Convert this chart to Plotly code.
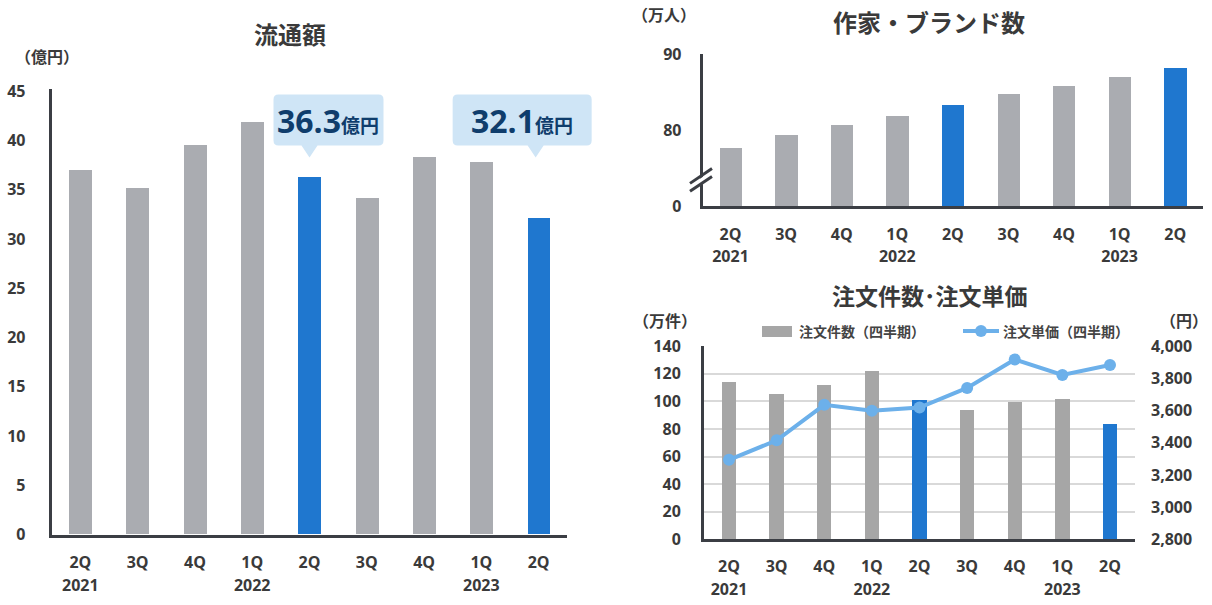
import plotly.graph_objects as go

# ---------------- data ----------------
quarters = ["2Q", "3Q", "4Q", "1Q", "2Q", "3Q", "4Q", "1Q", "2Q"]
years = ["2021", "", "", "2022", "", "", "", "2023", ""]
gmv = [37.0, 35.1, 39.5, 41.9, 36.3, 34.1, 38.3, 37.8, 32.1]          # 億円
creators = [77.7, 79.4, 80.7, 82.0, 83.4, 84.8, 85.9, 87.1, 88.2]     # 万人
orders = [114.0, 105.3, 111.6, 121.7, 101.0, 93.5, 99.5, 101.9, 83.4]  # 万件
unit_price = [3294, 3415, 3636, 3599, 3619, 3741, 3918, 3822, 3884]  # 円
highlight = [False, False, False, False, True, False, False, False, True]
gmv_callout_text = {4: "36.3", 8: "32.1"}

gmv_ticks = list(range(0, 46, 5))
creator_base = 70
creator_ticks = [70, 80, 90]
creator_ticktext = ["0", "80", "90"]
order_ticks = list(range(0, 141, 20))
price_ticks = list(range(2800, 4001, 200))

# ---------------- style ----------------
W, H = 1212, 605
# observed vertical mapping of the renderer (target px -> layout px)
V_OFF, V_SCALE = 12.2, 0.966
FONT = "Open Sans, Noto Sans CJK JP, sans-serif"
TXT = "#3a3a3a"
AX = "#3b3e44"
GRAY = "#aaacb1"
GRAY2 = "#a6a6a6"
BLUE = "#1f77cf"
LBLUE = "#6cb0ea"
CALL_BG = "#cfe5f6"
CALL_TX = "#0f3d6c"


def px(x):
    return x / W


def py(y):
    return 1 - ((y - V_OFF) / V_SCALE) / H


idx = list(range(len(quarters)))
year_vals = [i for i, y in enumerate(years) if y]
year_text = [y for y in years if y]
colors_a = [BLUE if h else GRAY for h in highlight]
colors_b = [BLUE if h else GRAY2 for h in highlight]

fig = go.Figure()

# left: 流通額
fig.add_trace(go.Bar(x=idx, y=gmv, width=0.4, xaxis="x", yaxis="y",
                     marker_color=colors_a, marker_line_width=0, hoverinfo="skip"))
# top right: 作家・ブランド数 (broken axis: bars start at the displayed "0")
fig.add_trace(go.Bar(x=idx, y=[v - creator_base for v in creators], base=creator_base,
                     width=0.4, xaxis="x2", yaxis="y2",
                     marker_color=colors_a, marker_line_width=0, hoverinfo="skip"))
# bottom right: 注文件数 / 注文単価
fig.add_trace(go.Bar(x=idx, y=orders, width=0.3, xaxis="x3", yaxis="y3",
                     marker_color=colors_b, marker_line_width=0, hoverinfo="skip"))
fig.add_trace(go.Scatter(x=idx, y=unit_price, xaxis="x3", yaxis="y4",
                         mode="lines+markers",
                         line=dict(color=LBLUE, width=4),
                         marker=dict(size=12, color=LBLUE),
                         hoverinfo="skip"))
# empty traces so the year-label axes are rendered
for xa, ya in [("x4", "y"), ("x5", "y2"), ("x6", "y3")]:
    fig.add_trace(go.Scatter(x=[], y=[], xaxis=xa, yaxis=ya, hoverinfo="skip"))

tickf = dict(family=FONT, size=16, color=TXT, weight="bold")


def xaxis(domain, rng, anchor, standoff):
    return dict(domain=domain, range=rng, anchor=anchor, tickvals=idx,
                ticktext=quarters, showline=True, linecolor=AX, linewidth=3,
                showgrid=False, zeroline=False, ticks="", tickfont=tickf,
                ticklabelstandoff=standoff, fixedrange=True)


def yearaxis(base, rng, anchor, standoff):
    return dict(overlaying=base, range=rng, anchor=anchor, tickvals=year_vals,
                ticktext=year_text, showline=False, showgrid=False,
                zeroline=False, ticks="", tickfont=tickf, side="bottom",
                ticklabelstandoff=standoff, fixedrange=True)


L_dom = [px(51.7), px(567.3)]
TR_dom = [px(702.7), px(1203)]
BR_dom = [px(704), px(1135)]

fig.update_layout(
    width=W, height=H, margin=dict(l=0, r=0, t=0, b=0),
    paper_bgcolor="white", plot_bgcolor="rgba(0,0,0,0)",
    showlegend=False, bargap=0,
    font=dict(family=FONT, color=TXT),
    xaxis=xaxis(L_dom, [-0.5, 8.5], "y", 11),
    xaxis4=yearaxis("x", [-0.5, 8.5], "y", 39),
    yaxis=dict(domain=[py(537), py(90.7)], range=[0, 45.2], tickvals=gmv_ticks,
               showline=True, linecolor=AX, linewidth=3, showgrid=False,
               zeroline=False, ticks="", tickfont=tickf, ticklabelstandoff=20,
               fixedrange=True),
    xaxis2=xaxis(TR_dom, [-0.5, 8.5], "y2", 11),
    xaxis5=yearaxis("x2", [-0.5, 8.5], "y2", 39),
    yaxis2=dict(domain=[py(208), py(55)], range=[70, 90.1], tickvals=creator_ticks,
                ticktext=creator_ticktext, anchor="x2",
                showline=True, linecolor=AX, linewidth=3, showgrid=False,
                zeroline=False, ticks="", tickfont=tickf, ticklabelstandoff=15,
                fixedrange=True),
    xaxis3=xaxis(BR_dom, [-0.525, 8.525], "y3", 11),
    xaxis6=yearaxis("x3", [-0.525, 8.525], "y3", 39),
    yaxis3=dict(domain=[py(541.7), py(348.3)], range=[0, 140], tickvals=order_ticks,
                anchor="x3", showline=True, linecolor=AX, linewidth=3,
                showgrid=True, gridcolor="#d9d9d9", gridwidth=1.5,
                zeroline=False, ticks="", tickfont=tickf, ticklabelstandoff=17,
                fixedrange=True),
    yaxis4=dict(overlaying="y3", side="right", anchor="x3", range=[2800, 4000],
                tickvals=price_ticks, tickformat=",", showline=False,
                showgrid=False, zeroline=False, ticks="", tickfont=tickf,
                ticklabelstandoff=15, fixedrange=True),
)

shapes = []
annotations = []


def ann(text, x, y, size, xanchor="center", color=TXT):
    annotations.append(dict(text=text, x=px(x), y=py(y), xref="paper", yref="paper",
                            xanchor=xanchor, yanchor="middle", showarrow=False,
                            font=dict(family=FONT, size=size, color=color,
                                      weight="bold")))


# titles and unit labels
ann("流通額", 290, 36, 24)
ann("作家・ブランド数", 929, 24, 24)
ann("注文件数･注文単価", 930, 298, 23)
ann("（億円）", 47, 58, 16)
ann("（万人）", 664, 16, 16)
ann("（万件）", 665, 323, 16)
ann("（円）", 1184, 323, 16)

# callouts on the GMV chart
L_step = (567.3 - 51.7) / 9.0
callout_geom = {4: (-36, 74, 0), 8: (-86, 53, -3)}  # box left/right offset, apex offset (px)
for i, label in gmv_callout_text.items():
    cx = 51.7 + (i + 0.5) * L_step
    lo, hi, ao = callout_geom[i]
    x0, x1 = cx + lo, cx + hi
    y0, y1 = 96, 147
    ax_, ay_ = cx + ao, 159
    r = 5
    pts = (f"M {px(x0 + r)} {py(y0)} L {px(x1 - r)} {py(y0)} "
           f"Q {px(x1)} {py(y0)} {px(x1)} {py(y0 + r)} "
           f"L {px(x1)} {py(y1 - r)} Q {px(x1)} {py(y1)} {px(x1 - r)} {py(y1)} "
           f"L {px(ax_ + 8)} {py(y1)} L {px(ax_)} {py(ay_)} L {px(ax_ - 8)} {py(y1)} "
           f"L {px(x0 + r)} {py(y1)} Q {px(x0)} {py(y1)} {px(x0)} {py(y1 - r)} "
           f"L {px(x0)} {py(y0 + r)} Q {px(x0)} {py(y0)} {px(x0 + r)} {py(y0)} Z")
    shapes.append(dict(type="path", path=pts, xref="paper", yref="paper",
                       fillcolor=CALL_BG, line=dict(width=0), layer="above"))
    annotations.append(dict(
        text=f"{label}<span style='font-size:19px'>億円</span>",
        x=px((x0 + x1) / 2), y=py(122), xref="paper", yref="paper",
        xanchor="center", yanchor="middle", showarrow=False,
        font=dict(family=FONT, size=32, color=CALL_TX, weight="bold")))

# axis break on 作家・ブランド数
shapes.append(dict(type="path", xref="paper", yref="paper",
                   path=(f"M {px(692)} {py(186)} L {px(712)} {py(172)} "
                         f"L {px(712)} {py(179)} L {px(692)} {py(193)} Z"),
                   fillcolor="white", line=dict(width=0), layer="above"))
for (ya, yb) in [(185, 170), (193, 178)]:
    shapes.append(dict(type="line", xref="paper", yref="paper",
                       x0=px(690), y0=py(ya), x1=px(712), y1=py(yb),
                       line=dict(color=AX, width=3), layer="above"))

# legend of the bottom chart
shapes.append(dict(type="rect", xref="paper", yref="paper",
                   x0=px(762), x1=px(792), y0=py(339), y1=py(328),
                   fillcolor=GRAY2, line=dict(width=0)))
ann("注文件数（四半期）", 797, 333, 14, xanchor="left", color="#444444")
shapes.append(dict(type="line", xref="paper", yref="paper",
                   x0=px(963), x1=px(999), y0=py(333), y1=py(333),
                   line=dict(color=LBLUE, width=4)))
shapes.append(dict(type="circle", xref="paper", yref="paper",
                   x0=px(975), x1=px(987), y0=py(339), y1=py(327),
                   fillcolor=LBLUE, line=dict(width=0)))
ann("注文単価（四半期）", 1001, 333, 14, xanchor="left", color="#444444")

fig.update_layout(shapes=shapes, annotations=annotations)

fig.write_html("out.html")
